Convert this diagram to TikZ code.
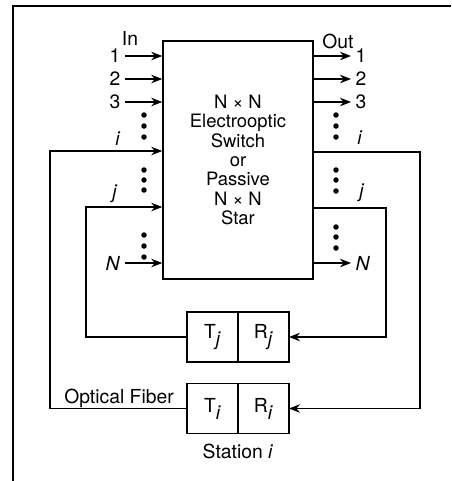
\documentclass[tikz,border=0pt]{standalone}
\usepackage{fontspec}
\setmainfont{TeX Gyre Heros}
\usetikzlibrary{arrows.meta,positioning}

\tikzset{
  sig/.style={line width=0.6pt,-{Stealth[length=2.2mm,width=1.7mm]}},
  halfbox/.style={draw,line width=0.9pt,minimum width=1.02cm,minimum height=1cm,inner sep=0pt,outer sep=0pt,font=\fontsize{11}{12}\selectfont},
  lbl/.style={inner sep=2.5pt,font=\fontsize{11}{12}\selectfont},
}

\begin{document}
\begin{tikzpicture}[x=0.02cm,y=-0.02cm]
\useasboundingbox (0,0) rectangle (451,481);
\draw[line width=1.1pt] (13,481) -- (13,6) -- (451,6);
% switch / star
\node[draw,line width=0.9pt,minimum width=3cm,minimum height=4.76cm,align=center,font=\fontsize{10.5}{11}\selectfont] (sw) at (238,160) {N × N\\Electrooptic\\Switch\\or\\Passive\\N × N\\Star};
\node[lbl] (inhead) at (130,38) {In};
\node[lbl] (outhead) at (338,41) {Out};
\foreach \k/\y in {1/56,2/79,3/102}{
  \node[lbl,anchor=east] (in\k) at (125,\y) {\k};
  \draw[sig] (in\k) -- (in\k -| sw.west);
  \node[lbl,anchor=west] (out\k) at (351,\y) {\k};
  \draw[sig] (out\k -| sw.east) -- (out\k);
}
\node[lbl,anchor=east] (inN) at (125,263) {\textit{N}};
\draw[sig] (inN) -- (inN -| sw.west);
\node[lbl,anchor=west] (outN) at (351,263) {\textit{N}};
\draw[sig] (outN -| sw.east) -- (outN);
% dots
\foreach \y in {115,126,137,170,180,190,235,246,257}
  \fill (144,\y) circle[radius=0.055cm];
\foreach \y in {115,126,137,170,180,191,227,237,248}
  \fill (336,\y) circle[radius=0.055cm];
\node[lbl] (ilab) at (118,139) {\textit{i}};
\node[lbl] (jlab) at (115,194) {\textit{j}};
\node[lbl] (ilabout) at (360,138) {\textit{i}};
\node[lbl] (jlabout) at (362,193) {\textit{j}};
% stations
\node[halfbox] (Tj) at (212.5,337) {T$_{\textit{j}}$};
\node[halfbox,right=0pt of Tj] (Rj) {R$_{\textit{j}}$};
\node[halfbox] (Ti) at (212.5,408.5) {T$_{\textit{i}}$};
\node[halfbox,right=0pt of Ti] (Ri) {R$_{\textit{i}}$};
\node[lbl] (fiberlab) at (119,398) {Optical Fiber};
\node[lbl] (station) at (238,451) {Station \textit{i}};
% fibers
\coordinate (li) at (50,151);
\coordinate (lj) at (86,207);
\coordinate (ri) at (420,152);
\coordinate (rj) at (386,208);
\draw[sig] (Ti) -| (li) -- (li -| sw.west);
\draw[sig] (Tj) -| (lj) -- (lj -| sw.west);
\draw[sig] (ri -| sw.east) -- (ri) |- (Ri);
\draw[sig] (rj -| sw.east) -- (rj) |- (Rj);
\end{tikzpicture}
\end{document}
